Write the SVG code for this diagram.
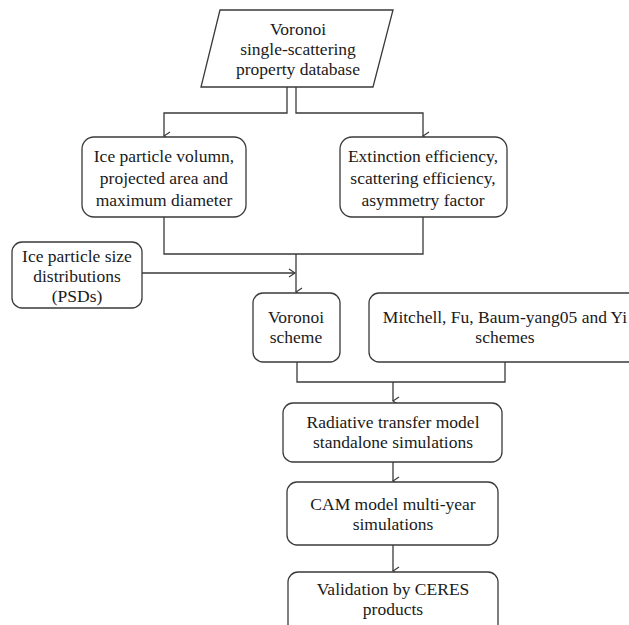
<svg xmlns="http://www.w3.org/2000/svg" width="629" height="625" viewBox="0 0 629 625">
<defs>
<style>
.b{fill:#fff;stroke:#3a3a3a;stroke-width:1.3}
.c{fill:none;stroke:#3a3a3a;stroke-width:1.3}
text{font-family:"Liberation Serif","Times New Roman",serif;font-size:17.5px;fill:#1a1a1a;text-anchor:middle}
</style>
<marker id="ah" viewBox="0 0 10 10" refX="5" refY="9" markerWidth="10" markerHeight="10" markerUnits="userSpaceOnUse" orient="auto-start-reverse">
<path d="M1,3 L5,9 L9,3" fill="none" stroke="#3a3a3a" stroke-width="1.2"/>
</marker>
<marker id="ar" viewBox="0 0 10 10" refX="9" refY="5" markerWidth="10" markerHeight="10" markerUnits="userSpaceOnUse">
<path d="M3,1 L9,5 L3,9" fill="none" stroke="#3a3a3a" stroke-width="1.2"/>
</marker>
</defs>
<rect width="629" height="625" fill="#fff"/>
<g id="connectors">
<path class="c" d="M287,87 V113 H164 V136" marker-end="url(#ah)"/>
<path class="c" d="M296,87 V113 H423 V136" marker-end="url(#ah)"/>
<path class="c" d="M164,217 V254 H423 V217"/>
<path class="c" d="M296,254 V292" marker-end="url(#ah)"/>
<path class="c" d="M142,273 H295" marker-end="url(#ar)"/>
<path class="c" d="M297,362 V382 H505 V362"/>
<path class="c" d="M393,382 V401" marker-end="url(#ah)"/>
<path class="c" d="M393,462 V481" marker-end="url(#ah)"/>
<path class="c" d="M393,545 V571" marker-end="url(#ah)"/>
</g>
<g id="database">
<polygon class="b" points="220,10 393,10 373,87 201,87"/>
<text x="298" y="35">Voronoi</text>
<text x="298" y="55">single-scattering</text>
<text x="298" y="75">property database</text>
</g>
<g id="geometry">
<rect class="b" x="82" y="137" width="164" height="80" rx="12"/>
<text x="164" y="162">Ice particle volumn,</text>
<text x="164" y="184">projected area and</text>
<text x="164" y="206">maximum diameter</text>
</g>
<g id="optics">
<rect class="b" x="340" y="137" width="167" height="80" rx="12"/>
<text x="423" y="162">Extinction efficiency,</text>
<text x="423" y="184">scattering efficiency,</text>
<text x="423" y="206">asymmetry factor</text>
</g>
<g id="psd">
<rect class="b" x="12" y="242" width="130" height="66" rx="10"/>
<text x="77" y="262">Ice particle size</text>
<text x="77" y="282">distributions</text>
<text x="77" y="302">(PSDs)</text>
</g>
<g id="voronoi-scheme">
<rect class="b" x="253" y="293" width="87" height="69" rx="10"/>
<text x="296" y="323">Voronoi</text>
<text x="296" y="343">scheme</text>
</g>
<g id="other-schemes">
<rect class="b" x="369" y="293" width="272" height="69" rx="10"/>
<text x="505" y="323">Mitchell, Fu, Baum-yang05 and Yi</text>
<text x="505" y="343">schemes</text>
</g>
<g id="rtm">
<rect class="b" x="283" y="403" width="219" height="59" rx="10"/>
<text x="393" y="428">Radiative transfer model</text>
<text x="393" y="448">standalone simulations</text>
</g>
<g id="cam">
<rect class="b" x="287" y="482" width="211" height="63" rx="10"/>
<text x="393" y="510">CAM model multi-year</text>
<text x="393" y="530">simulations</text>
</g>
<g id="validation">
<rect class="b" x="288" y="572" width="210" height="62" rx="10"/>
<text x="393" y="595">Validation by CERES</text>
<text x="393" y="615">products</text>
</g>
</svg>
